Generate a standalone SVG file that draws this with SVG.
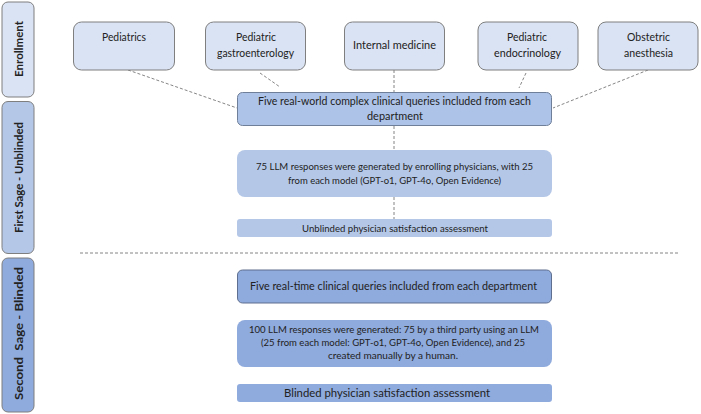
<svg xmlns="http://www.w3.org/2000/svg" width="701" height="414" viewBox="0 0 701 414">
<style>
text{font-family:Lato,"Open Sans","Liberation Sans",sans-serif;fill:#222;text-anchor:middle}
.t{font-size:10px}
.d{font-size:11px}
.m{font-size:11px}
.lab{font-size:11px;font-weight:bold}
.dept{fill:#dae3f3;stroke:#7f7f7f;stroke-width:1}
.conn{stroke:#666;stroke-width:0.8;stroke-dasharray:3,2;fill:none}
</style>
<rect width="701" height="414" fill="#fff"/>
<g id="label-enrollment">
<rect x="2" y="2" width="32" height="95" rx="6" fill="#dae3f3" stroke="#7f7f7f"/>
<text class="lab" transform="translate(22.5,49) rotate(-90)" textLength="56" lengthAdjust="spacingAndGlyphs">Enrollment</text>
</g>
<g id="label-first">
<rect x="2" y="101.5" width="32" height="152" rx="6" fill="#b4c7e7" stroke="#7f7f7f"/>
<text class="lab" transform="translate(22.5,177.5) rotate(-90)" textLength="111" lengthAdjust="spacingAndGlyphs">First Sage - Unblinded</text>
</g>
<g id="label-second">
<rect x="2" y="258" width="32" height="154" rx="6" fill="#8faadc" stroke="#7f7f7f"/>
<text class="lab" transform="translate(22.5,333.5) rotate(-90)" textLength="133" lengthAdjust="spacingAndGlyphs" xml:space="preserve">Second  Sage - Blinded</text>
</g>
<g id="connectors">
<line class="conn" x1="128" y1="70" x2="237" y2="108"/>
<line class="conn" x1="260" y1="73" x2="280" y2="87"/>
<line class="conn" x1="394" y1="70" x2="394" y2="92"/>
<line class="conn" x1="526" y1="73" x2="519" y2="88"/>
<line class="conn" x1="648" y1="70" x2="553" y2="108"/>
<line class="conn" x1="394" y1="126" x2="394" y2="150"/>
<line class="conn" x1="394" y1="197" x2="394" y2="219"/>
<line class="conn" x1="80" y1="253" x2="678" y2="253"/>
</g>
<g id="pediatrics">
<rect class="dept" x="73.5" y="22" width="101" height="48" rx="8"/>
<text class="d" x="124" y="41" textLength="44" lengthAdjust="spacingAndGlyphs">Pediatrics</text>
</g>
<g id="ped-gastro">
<rect class="dept" x="205.5" y="22" width="100" height="48" rx="8"/>
<text class="d" x="256" y="41" textLength="40" lengthAdjust="spacingAndGlyphs">Pediatric</text>
<text class="d" x="255.5" y="57" textLength="77" lengthAdjust="spacingAndGlyphs">gastroenterology</text>
</g>
<g id="internal-medicine">
<rect class="dept" x="344.5" y="22" width="100" height="48" rx="8"/>
<text class="d" x="394.5" y="49" textLength="83" lengthAdjust="spacingAndGlyphs">Internal medicine</text>
</g>
<g id="ped-endo">
<rect class="dept" x="478" y="22" width="100" height="48" rx="8"/>
<text class="d" x="527" y="41" textLength="40" lengthAdjust="spacingAndGlyphs">Pediatric</text>
<text class="d" x="527.5" y="57" textLength="67" lengthAdjust="spacingAndGlyphs">endocrinology</text>
</g>
<g id="obstetric">
<rect class="dept" x="598" y="22" width="100" height="48" rx="8"/>
<text class="d" x="648.5" y="41" textLength="43" lengthAdjust="spacingAndGlyphs">Obstetric</text>
<text class="d" x="648.5" y="57" textLength="49" lengthAdjust="spacingAndGlyphs">anesthesia</text>
</g>
<g id="five-real-world">
<rect x="237.5" y="92.5" width="314" height="33" rx="5" fill="#adc3e7" stroke="#6f7f99"/>
<text class="m" x="394.5" y="105" textLength="273" lengthAdjust="spacingAndGlyphs">Five real-world complex clinical queries included from each</text>
<text class="m" x="395" y="120" textLength="56" lengthAdjust="spacingAndGlyphs">department</text>
</g>
<g id="llm-75">
<rect x="237" y="150" width="315" height="47" rx="8" fill="#b4c7e7"/>
<text class="t" x="394.5" y="170" textLength="277" lengthAdjust="spacingAndGlyphs">75 LLM responses were generated by enrolling physicians, with 25</text>
<text class="t" x="394.5" y="184" textLength="213" lengthAdjust="spacingAndGlyphs">from each model (GPT-o1, GPT-4o, Open Evidence)</text>
</g>
<g id="unblinded">
<rect x="237" y="219" width="315" height="18" rx="3" fill="#b4c7e7"/>
<text class="t" x="395" y="232" textLength="186" lengthAdjust="spacingAndGlyphs">Unblinded physician satisfaction assessment</text>
</g>
<g id="five-real-time">
<rect x="237.5" y="270" width="314" height="33" rx="5" fill="#8faadc" stroke="#5f6f8f"/>
<text class="m" x="393.5" y="289.5" textLength="287" lengthAdjust="spacingAndGlyphs">Five real-time clinical queries included from each department</text>
</g>
<g id="llm-100">
<rect x="237" y="320" width="315" height="47" rx="8" fill="#8faadc"/>
<text class="t" x="394" y="333" textLength="290" lengthAdjust="spacingAndGlyphs">100 LLM responses were generated: 75 by a third party using an LLM</text>
<text class="t" x="393" y="346" textLength="264" lengthAdjust="spacingAndGlyphs">(25 from each model: GPT-o1, GPT-4o, Open Evidence), and 25</text>
<text class="t" x="393" y="359" textLength="130" lengthAdjust="spacingAndGlyphs">created manually by a human.</text>
</g>
<g id="blinded">
<rect x="237" y="384" width="315" height="18" rx="3" fill="#8faadc"/>
<text class="m" x="387" y="396.5" textLength="206" lengthAdjust="spacingAndGlyphs">Blinded physician satisfaction assessment</text>
</g>
</svg>
